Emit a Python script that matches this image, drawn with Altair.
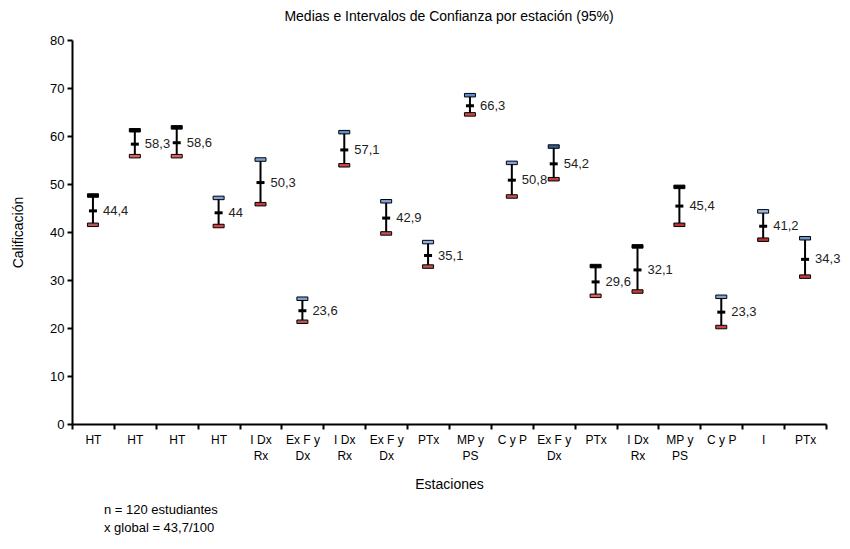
import json
import altair as alt
import pandas as pd

labels = ["HT", "HT", "HT", "HT", "I Dx\nRx", "Ex F y\nDx", "I Dx\nRx", "Ex F y\nDx", "PTx",
          "MP y\nPS", "C y P", "Ex F y\nDx", "PTx", "I Dx\nRx", "MP y\nPS", "C y P", "I", "PTx"]
means = [44.4, 58.3, 58.6, 44.0, 50.3, 23.6, 57.1, 42.9, 35.1, 66.3, 50.8, 54.2, 29.6, 32.1, 45.4, 23.3, 41.2, 34.3]
upper = [47.6, 61.2, 61.8, 47.1, 55.1, 26.1, 60.8, 46.4, 37.9, 68.5, 54.4, 57.8, 32.9, 37.0, 49.4, 26.5, 44.3, 38.7]
lower = [41.5, 55.8, 55.8, 41.25, 45.8, 21.3, 53.9, 39.7, 32.8, 64.5, 47.4, 51.0, 26.7, 27.6, 41.5, 20.2, 38.4, 30.7]
upper_fill = ["#000000", "#000000", "#000000", "#7da3d8", "#7da3d8", "#7da3d8", "#5b8fd0", "#7da3d8", "#8fb4e3",
              "#5b8fd0", "#7da3d8", "#2f5f93", "#000000", "#000000", "#000000", "#7da3d8", "#9dbde6", "#6d95c8"]
lower_fill = ["#b55a55", "#e06060", "#e06060", "#d94040", "#c83a3a", "#b85555", "#c84848", "#c05050", "#b85555",
              "#c84848", "#c85050", "#c83a3a", "#e06060", "#c83a3a", "#b83030", "#c84848", "#b83030", "#c83a3a"]
mean_labels = ["44,4", "58,3", "58,6", "44", "50,3", "23,6", "57,1", "42,9", "35,1", "66,3", "50,8", "54,2",
               "29,6", "32,1", "45,4", "23,3", "41,2", "34,3"]
footer_lines = ["n = 120 estudiantes", "x global = 43,7/100"]

df = pd.DataFrame({
    "idx": list(range(len(labels))),
    "mean": means, "upper": upper, "lower": lower,
    "ufill": upper_fill, "lfill": lower_fill, "lab": mean_labels,
})

FONT = "Liberation Sans"
label_expr = json.dumps([l.split("\n") for l in labels]) + "[datum.value]"

x = alt.X("idx:O", title="Estaciones",
          scale=alt.Scale(paddingInner=0, paddingOuter=0),
          axis=alt.Axis(labelExpr=label_expr, labelAngle=0, tickBand="extent",
                        labelFontSize=12, labelLineHeight=16, labelFont=FONT, labelColor="black",
                        titleFont=FONT, titleFontSize=14, titleFontWeight="normal", titleColor="black",
                        titlePadding=16, domainColor="black", domainWidth=2, tickColor="black",
                        tickWidth=2, tickSize=5, labelPadding=5))
y_scale = alt.Scale(domain=[0, 80], nice=False)
y_axis = alt.Axis(values=list(range(0, 81, 10)), grid=False, labelFontSize=13, labelFont=FONT,
                  labelColor="black", titleFont=FONT, titleFontSize=14, titleFontWeight="normal",
                  titleColor="black", titlePadding=24, domainColor="black", domainWidth=2,
                  tickColor="black", tickWidth=2, tickSize=5, labelPadding=3)

base = alt.Chart(df)

rule = base.mark_rule(color="black", strokeWidth=2).encode(
    x=x, y=alt.Y("lower:Q", scale=y_scale, axis=y_axis, title="Calificación"), y2="upper:Q")
ucap = base.mark_tick(orient="horizontal", size=11, thickness=3.5, stroke="black", strokeWidth=1,
                      opacity=1).encode(
    x=x, y=alt.Y("upper:Q", scale=y_scale), fill=alt.Fill("ufill:N", scale=None))
lcap = base.mark_tick(orient="horizontal", size=11, thickness=3.5, stroke="black", strokeWidth=1,
                      opacity=1).encode(
    x=x, y=alt.Y("lower:Q", scale=y_scale), fill=alt.Fill("lfill:N", scale=None))
mid = base.mark_tick(orient="horizontal", size=8, thickness=3, color="black", opacity=1).encode(
    x=x, y=alt.Y("mean:Q", scale=y_scale))
txt = base.mark_text(align="left", baseline="middle", dx=10, font=FONT, fontSize=13, color="#222222").encode(
    x=x, y=alt.Y("mean:Q", scale=y_scale), text="lab:N")

foot1 = alt.Chart(pd.DataFrame({"t": [footer_lines[0]]})).mark_text(
    align="left", baseline="middle", font=FONT, fontSize=13, color="black").encode(
    text="t:N", x=alt.value(32), y=alt.value(470))
foot2 = alt.Chart(pd.DataFrame({"t": [footer_lines[1]]})).mark_text(
    align="left", baseline="middle", font=FONT, fontSize=13, color="black").encode(
    text="t:N", x=alt.value(32), y=alt.value(488))

chart = alt.layer(rule, ucap, lcap, mid, txt, foot1, foot2).properties(
    width=754, height=384,
    title=alt.TitleParams("Medias e Intervalos de Confianza por estación (95%)", font=FONT,
                          fontSize=14, fontWeight="normal", color="black", anchor="middle", offset=10),
    autosize=alt.AutoSizeParams(type="none"),
    padding={"left": 64, "top": 32, "right": 16, "bottom": 117},
).configure_view(stroke=None)

chart.save("out.html", embed_options={"renderer": "svg", "actions": False})
